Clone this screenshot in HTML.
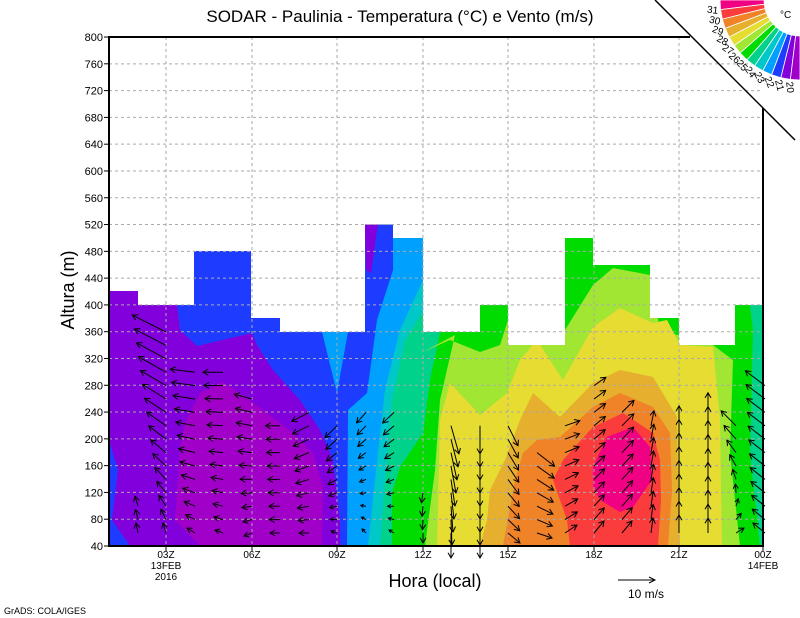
<!DOCTYPE html>
<html><head><meta charset="utf-8"><style>
html,body{margin:0;padding:0;background:#fff;width:800px;height:618px;overflow:hidden}
svg{display:block}
text{font-family:"Liberation Sans",sans-serif;fill:#000}
</style></head><body>
<svg id="s" width="800" height="618" viewBox="0 0 800 618" xmlns="http://www.w3.org/2000/svg">
<g id="fill">
<rect x="109" y="37" width="654" height="509" fill="#1e3cff"/>
<polygon fill="#8200dc" points="109,291 138,291 138,305 177,305 180,330 197,346 252,333 257,345 273,370 300,400 320,430 333,460 340,520 340,546 130,546 112,520 118,470 109,440"/>
<polygon fill="#8200dc" points="365,224 378,224 371,273 366,270"/>
<polygon fill="#a000c8" points="200,393 223,382 263,410 293,433 313,453 323,487 322,546 200,546 175,520 180,447 185,423"/>
<polygon fill="#00a0ff" points="393,224 393,270 377,320 367,393 348,410 347,546 763,546 763,224"/>
<polygon fill="#00a0ff" points="322,332 337,393 348,332"/>
<polygon fill="#00c8c8" points="423,280 400,330 385,390 375,480 368,546 763,546 763,224 423,224"/>
<polygon fill="#00d28c" points="430,300 405,340 392,400 385,480 380,546 763,546 763,224 430,224"/>
<polygon fill="#00dc00" points="440,332 430,380 423,433 400,467 392,493 392,546 763,546 763,224 440,224"/>
<polygon fill="#a0e632" points="455,335 440,400 435,470 425,546 740,546 730,453 733,360 713,345 660,330 650,275 613,268 593,285 565,330 530,310 508,320 500,345 480,352 450,340 423,352"/>
<polygon fill="#e6dc32" points="450,383 480,415 507,393 520,360 537,340 563,380 593,327 620,308 653,323 667,320 680,345 713,347 720,420 722,546 437,546 440,420"/>
<polygon fill="#e6af2d" points="480,546 487,520 490,490 505,460 520,420 533,393 560,417 593,383 620,370 653,377 677,417 678,487 680,546"/>
<polygon fill="#f08228" points="503,546 515,480 523,453 537,440 560,437 593,407 620,393 653,407 670,433 672,490 668,546"/>
<polygon fill="#fa3c3c" points="570,546 567,520 553,480 563,460 593,427 623,413 653,433 660,460 661,500 658,546"/>
<polygon fill="#f00082" points="593,467 607,437 633,427 650,447 652,480 633,507 620,512 600,500 593,487"/>
<polygon fill="#00d28c" points="748,290 763,290 763,546 760,546 750,453 753,330"/>
</g>
<polygon fill="#fff" points="109,37 763,37 763,305 735,305 735,345 679,345 679,318 650,318 650,265 593,265 593,238 565,238 565,345 508,345 508,305 480,305 480,332 423,332 423,238 393,238 393,224.5 365,224.5 365,332 280,332 280,318 251,318 251,251 194,251 194,305 138,305 138,291 109,291"/>
<g id="grid" stroke="#aaa" stroke-width="1" stroke-dasharray="3,3"></g>
<g id="arr" stroke="#000" stroke-width="1" fill="none"></g>
<g stroke="#000" stroke-width="2" fill="none">
<polyline points="690,37 109,37 109,546 763,546 763,108"/>
</g>
<line x1="655" y1="0" x2="795" y2="140" stroke="#000" stroke-width="1.5"/>
<g id="wheel"></g>
<text x="780" y="18" font-size="10">°C</text>
<g id="lab" font-size="11"></g>
<text x="400" y="22" font-size="17" text-anchor="middle">SODAR - Paulinia - Temperatura (°C) e Vento (m/s)</text>
<text x="0" y="0" font-size="18" text-anchor="middle" transform="translate(74,290) rotate(-90)">Altura (m)</text>
<text x="435" y="587" font-size="18" text-anchor="middle">Hora (local)</text>
<line x1="618" y1="580" x2="655" y2="580" stroke="#000"/>
<polyline points="649,577 655,580 649,583" stroke="#000" fill="none"/>
<text x="628" y="598" font-size="12">10 m/s</text>
<text x="4" y="614" font-size="9">GrADS: COLA/IGES</text>
</svg>
<script>
var NS="http://www.w3.org/2000/svg";
function el(p,t,a,txt){var e=document.createElementNS(NS,t);for(var k in a)e.setAttribute(k,a[k]);if(txt!==undefined)e.textContent=txt;document.getElementById(p).appendChild(e);return e;}
function Y(v){return 546-(v-40)*0.6697;}
for(var v=80;v<800;v+=40)el("grid","line",{x1:109,x2:763,y1:Y(v),y2:Y(v)});
[166,252,337,423,508,594,679].forEach(function(x){el("grid","line",{x1:x,x2:x,y1:37,y2:546});});
for(var v=40;v<=800;v+=40){el("lab","text",{x:103,y:Y(v)+4,"text-anchor":"end"},String(v));el("arr","line",{x1:104,x2:109,y1:Y(v),y2:Y(v)});}
var xl=[[166,"03Z","13FEB","2016"],[252,"06Z"],[337,"09Z"],[423,"12Z"],[508,"15Z"],[594,"18Z"],[679,"21Z"],[763,"00Z","14FEB"]];
xl.forEach(function(a){for(var i=1;i<a.length;i++)el("lab","text",{x:a[0],y:558+(i-1)*11,"text-anchor":"middle","font-size":10},a[i]);el("arr","line",{x1:a[0],x2:a[0],y1:546,y2:551});});
var cols=[[138,505,[-2,-10],[-3,-10]],[166,330,[-3,-10],[-34,-17]],[195,370,[-8,-5],[-25,-3]],[223,372,[-8,-3],[-20,0]],[252,395,[-8,3],[-18,-5]],[280,415,[-10,0],[-15,0]],[309,400,[-10,0],[-18,10]],[337,425,[-6,-2],[-12,12]],[366,400,[-4,-4],[-10,12]],[394,400,[-5,-3],[-12,12]],[423,480,[0,10],[-2,10]],[451,425,[0,25],[8,28]],[480,425,[0,25],[0,28]],[508,425,[12,10],[10,20]],[537,440,[15,5],[18,15]],[565,420,[12,-8],[15,-5]],[594,375,[10,-12],[12,-8]],[622,410,[10,-12],[12,-12]],[651,420,[2,-15],[3,-15]],[679,420,[0,-18],[0,-20]],[708,405,[0,-15],[0,-20]],[736,425,[8,-5],[-15,-15]],[765,380,[-12,-10],[-20,-15]]];
cols.forEach(function(c){
 for(var y=533;y>=c[1];y-=13.4){
  var f=(533-y)/Math.max(1,533-c[1]);
  var vx=c[2][0]+(c[3][0]-c[2][0])*f, vy=c[2][1]+(c[3][1]-c[2][1])*f;
  var x2=c[0]+vx,y2=y+vy,L=Math.hypot(vx,vy);if(L<1)continue;
  var ux=vx/L,uy=vy/L,h=Math.min(6,L*0.6);
  var a1=[x2-h*(ux*0.866-uy*0.5),y2-h*(uy*0.866+ux*0.5)],a2=[x2-h*(ux*0.866+uy*0.5),y2-h*(uy*0.866-ux*0.5)];
  el("arr","line",{x1:c[0],y1:y,x2:x2,y2:y2});
  el("arr","polyline",{points:a1.join(",")+" "+x2+","+y2+" "+a2.join(",")});
 }
});
var wc=["#f00082","#fa3c3c","#f08228","#e6af2d","#e6dc32","#a0e632","#00dc00","#00d28c","#00c8c8","#00a0ff","#1e3cff","#8200dc","#a000c8"];
var cx=800,cy=0,r1=36,r2=80,n=wc.length;
function P(th,r){return (cx+r*Math.cos(th)).toFixed(1)+","+(cy+r*Math.sin(Math.PI-th)).toFixed(1);}
for(var i=0;i<n;i++){
 var th1=Math.PI-(Math.PI/2)*i/n, th2=Math.PI-(Math.PI/2)*(i+1)/n;
 el("wheel","polygon",{points:P(th1,r1)+" "+P(th1,r2)+" "+P(th2,r2)+" "+P(th2,r1),fill:wc[i],stroke:"#fff","stroke-width":0.8});
}
for(var i=0;i<12;i++){
 var th=Math.PI-(Math.PI/2)*(i+1)/n;
 var x=cx+88*Math.cos(th),y=cy+88*Math.sin(Math.PI-th);
 var deg=(180-th*180/Math.PI);
 el("wheel","text",{x:x.toFixed(1),y:y.toFixed(1),"font-size":10,"text-anchor":"middle","dominant-baseline":"middle",transform:"rotate("+deg.toFixed(1)+" "+x.toFixed(1)+" "+y.toFixed(1)+")"},String(31-i));
}
</script>
</body></html>
